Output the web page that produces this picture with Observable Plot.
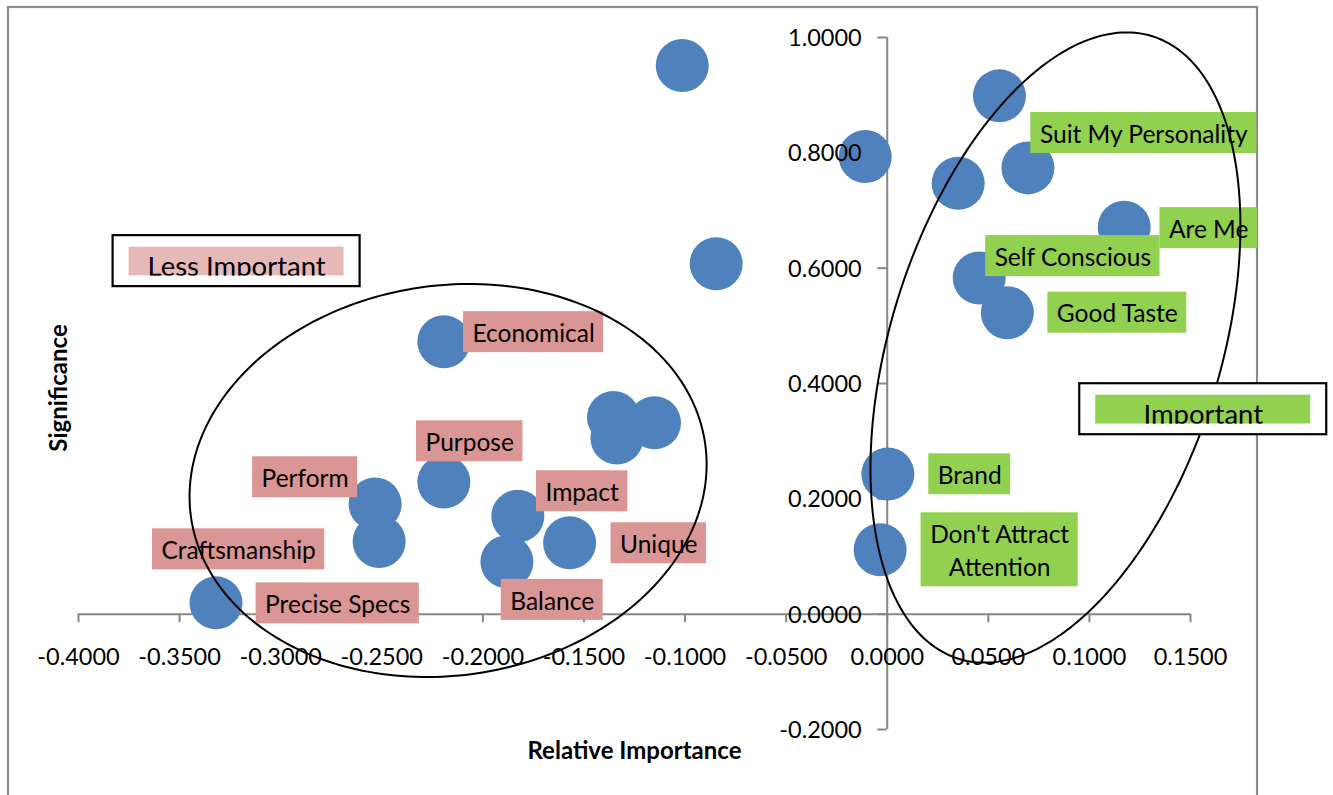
<!DOCTYPE html>
<html>
<head>
<meta charset="utf-8">
<script src="https://cdn.jsdelivr.net/npm/d3@7"></script>
<script src="https://cdn.jsdelivr.net/npm/@observablehq/plot@0.6"></script>
<style>
  html, body { margin: 0; padding: 0; background: #fff; }
  #chart { width: 1333px; height: 795px; overflow: hidden; }
</style>
</head>
<body>
<div id="chart"></div>
<script>
// Each attribute: relative importance (x) against significance (y)
const importance = [
  -0.1014, -0.0846, -0.0109, 0.0555, 0.0351, 0.0696, 0.1172, 0.0455, 0.0594,
  0.0003, -0.0035, -0.2193, -0.1354, -0.1151, -0.1337, -0.2193, -0.2533,
  -0.2513, -0.1827, -0.1571, -0.1881, -0.3320
];
const significance = [
  0.9513, 0.6078, 0.7935, 0.8988, 0.7472, 0.7739, 0.6708, 0.5830, 0.5228,
  0.2429, 0.1116, 0.4725, 0.3411, 0.3319, 0.3054, 0.2292, 0.1910,
  0.1260, 0.1700, 0.1237, 0.0908, 0.0196
];

// Attribute names, the spot each name sits at, and its group
const labelText = [
  "Economical", "Purpose", "Impact", "Unique", "Balance", "Perform",
  "Craftsmanship", "Precise Specs",
  "Suit My Personality", "Are Me", "Self Conscious", "Good Taste", "Brand",
  "Don't Attract\nAttention"
];
const labelX = [
  -0.1749, -0.2065, -0.1509, -0.1130, -0.1657, -0.2879, -0.3208, -0.2718,
  0.1269, 0.1590, 0.0918, 0.1138, 0.0408, 0.0556
];
const labelY = [
  0.4890, 0.2998, 0.2131, 0.1229, 0.0248, 0.2374, 0.1124, 0.0187,
  0.8343, 0.6694, 0.6209, 0.5228, 0.2426, 0.1116
];
const labelGroup = [
  "less", "less", "less", "less", "less", "less", "less", "less",
  "more", "more", "more", "more", "more", "more"
];

// Group call-outs
const calloutText = ["Less Important", "Important"];
const calloutX = [-0.3218, 0.1563];
const calloutY = [0.6122, 0.3554];
const calloutGroup = ["less", "more"];

// Axis ticks
const xTicks = [-0.4, -0.35, -0.3, -0.25, -0.2, -0.15, -0.1, -0.05, 0, 0.05, 0.1, 0.15];
const yTicks = [-0.2, 0, 0.2, 0.4, 0.6, 0.8, 1.0];

// Layout
const W = 1333, H = 795;
const M = { top: 37, right: 143, bottom: 66, left: 78 };
const xDomain = [-0.4, 0.15], yDomain = [-0.2, 1.0];
const kx = (W - M.left - M.right) / (xDomain[1] - xDomain[0]);
const ky = (H - M.top - M.bottom) / (yDomain[1] - yDomain[0]);

const axisGray = "#868686";
const pink = "#D99694", pinkLight = "#E6B9B8", green = "#92D050";
const dotBlue = "#4F81BD";
const FONT = "Lato, 'Open Sans', sans-serif";

// Outline ellipses grouping the attributes: centre in data units,
// semi-axes in pixels, tilt of the long axis in degrees
const groupOutlines = [
  { cx: -0.2172, cy: 0.2318, a: 259.7, b: 195, tilt: 8.2 },
  { cx: 0.0832, cy: 0.4624, a: 326, b: 165, tilt: 72.7 }
];
const outlinePts = [];
groupOutlines.forEach((e, k) => {
  const th = e.tilt * Math.PI / 180;
  for (let i = 0; i <= 240; i++) {
    const t = i / 240 * 2 * Math.PI;
    const px = e.a * Math.cos(t) * Math.cos(th) + e.b * Math.sin(t) * Math.sin(th);
    const py = -e.a * Math.cos(t) * Math.sin(th) + e.b * Math.sin(t) * Math.cos(th);
    outlinePts.push({ id: k, x: e.cx + px / kx, y: e.cy - py / ky });
  }
});

const pointIdx = d3.range(importance.length);
const labelIdx = d3.range(labelText.length);
const calloutIdx = d3.range(calloutText.length);

const svg = Plot.plot({
  width: W,
  height: H,
  marginTop: M.top,
  marginRight: M.right,
  marginBottom: M.bottom,
  marginLeft: M.left,
  x: { domain: xDomain, axis: null },
  y: { domain: yDomain, axis: null },
  style: { fontFamily: FONT, background: "white", overflow: "visible" },
  marks: [
    // axes crossing at the origin
    Plot.ruleY([0], { x1: xDomain[0], x2: xDomain[1], stroke: axisGray, strokeWidth: 2 }),
    Plot.ruleX([0], { y1: yDomain[0], y2: yDomain[1], stroke: axisGray, strokeWidth: 2 }),
    Plot.ruleX(xTicks, { x: d => d, y1: 0, y2: 0, insetBottom: -8.5, stroke: axisGray, strokeWidth: 2 }),
    Plot.ruleY(yTicks, { y: d => d, x1: 0, x2: 0, insetLeft: -9.5, stroke: axisGray, strokeWidth: 2 }),
    // attributes
    Plot.dot(pointIdx, {
      x: i => importance[i], y: i => significance[i], r: 26.5, fill: dotBlue, stroke: null
    }),
    // tick labels
    Plot.text(xTicks, {
      x: d => d, y: 0, text: d => d.toFixed(4), dy: 51, lineAnchor: "bottom",
      fontSize: 23.5, fill: "black"
    }),
    Plot.text(yTicks, {
      x: 0, y: d => d, text: d => d.toFixed(4), dx: -25.5, dy: 8.5, lineAnchor: "bottom",
      textAnchor: "end", fontSize: 23.5, fill: "black"
    }),
    // axis titles
    Plot.text(["Relative Importance"], {
      frameAnchor: "bottom", text: d => d, dy: 29, lineAnchor: "bottom", textAnchor: "middle",
      fontSize: 24, fontWeight: "bold", fill: "black"
    }),
    Plot.text(["Significance"], {
      frameAnchor: "left", text: d => d, rotate: -90, dx: -12, dy: 4.5,
      lineAnchor: "bottom", textAnchor: "middle",
      fontSize: 24, fontWeight: "bold", fill: "black"
    }),
    // attribute names (boxes added behind them below)
    Plot.text(labelIdx, {
      x: i => labelX[i], y: i => labelY[i], text: i => labelText[i],
      fontSize: 24.5, lineHeight: 1.36, dy: -1, fill: "black"
    }),
    // group outlines
    Plot.line(outlinePts, { x: "x", y: "y", z: "id", stroke: "black", strokeWidth: 2, curve: "linear" }),
    // group call-outs
    Plot.text(calloutIdx, {
      x: i => calloutX[i], y: i => calloutY[i], text: i => calloutText[i],
      dy: 15, lineAnchor: "bottom", fontSize: 27.5, fill: "black"
    })
  ]
});

document.getElementById("chart").append(svg);

const ns = "http://www.w3.org/2000/svg";
const sx = svg.scale("x"), sy = svg.scale("y");
function el(tag, attrs) {
  const e = document.createElementNS(ns, tag);
  for (const k in attrs) e.setAttribute(k, attrs[k]);
  return e;
}

// chart area border
const styleEl = svg.querySelector("style");
svg.insertBefore(
  el("rect", { x: 8, y: 7, width: 1249, height: 830, fill: "none", stroke: "#8c8c8c", "stroke-width": 2.2 }),
  styleEl ? styleEl.nextSibling : svg.firstChild
);

// text mark groups in mark order: x ticks, y ticks, two titles, names, call-outs
const textGroups = svg.querySelectorAll(':scope > g[aria-label="text"]');
const labelG = textGroups[4];
const calloutG = textGroups[5];

// coloured boxes behind attribute names
const boxG = el("g", { "aria-label": "label-box" });
labelG.querySelectorAll("text").forEach((t, j) => {
  const i = labelIdx[j];
  const w = t.getBoundingClientRect().width + 18;
  const lines = labelText[i].split("\n").length;
  const h = 8 + 33 * lines;
  const cx = sx.apply(labelX[i]), cy = sy.apply(labelY[i]);
  boxG.append(el("rect", {
    x: cx - w / 2, y: cy - h / 2, width: w, height: h,
    fill: labelGroup[i] === "less" ? pink : green
  }));
});
labelG.parentNode.insertBefore(boxG, labelG);

// framed call-out boxes; text sits on the lower edge of the fill and is cut there
const frameG = el("g", { "aria-label": "callout-box" });
const coverG = el("g", { "aria-label": "callout-cover" });
calloutIdx.forEach(i => {
  const cx = sx.apply(calloutX[i]), cy = sy.apply(calloutY[i]);
  frameG.append(el("rect", {
    x: cx - 123.5, y: cy - 25.5, width: 247, height: 51,
    fill: "white", stroke: "black", "stroke-width": 2.2
  }));
  frameG.append(el("rect", {
    x: cx - 107.5, y: cy - 14, width: 215, height: 29,
    fill: calloutGroup[i] === "less" ? pinkLight : green
  }));
  coverG.append(el("rect", {
    x: cx - 107.5, y: cy + 15, width: 215, height: 9, fill: "white"
  }));
});
calloutG.parentNode.insertBefore(frameG, calloutG);
calloutG.parentNode.insertBefore(coverG, calloutG.nextSibling);
</script>
</body>
</html>
